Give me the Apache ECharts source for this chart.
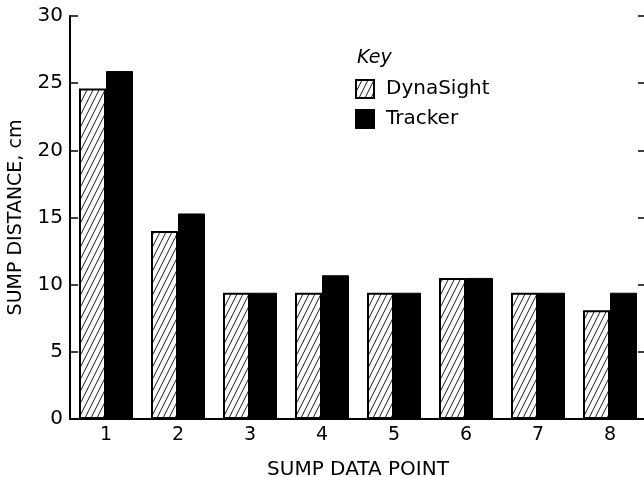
<!DOCTYPE html>
<html><head><meta charset="utf-8">
<script src="https://cdn.jsdelivr.net/npm/echarts@6/dist/echarts.min.js"></script>
<style>html,body{margin:0;padding:0;background:#fff}#c{width:644px;height:477px}</style>
</head><body><div id="c"></div>
<script>
const categories = ['1','2','3','4','5','6','7','8'];
const dynaSight = [24.6, 14.0, 9.4, 9.4, 9.4, 10.5, 9.4, 8.1];
const tracker = [25.9, 15.3, 9.4, 10.7, 9.4, 10.5, 9.4, 9.4];
const yTicks = [0, 5, 10, 15, 20, 25, 30];

const pc = document.createElement('canvas');
pc.width = 6; pc.height = 12;
const g = pc.getContext('2d');
g.fillStyle = '#fff'; g.fillRect(0,0,6,12);
g.strokeStyle = '#000'; g.lineWidth = 0.9;
g.beginPath();
for (let k = -2; k <= 2; k++) { g.moveTo(k*6, 12); g.lineTo(k*6+6, 0); }
g.stroke();

const font = 'DejaVu Sans';
const chart = echarts.init(document.getElementById('c'));
chart.setOption({
  animation: false,
  textStyle: {fontFamily: font, color: '#000'},
  grid: {left: 70, top: 16, width: 576, height: 403, containLabel: false, outerBoundsMode: 'none'},
  legend: {
    orient: 'vertical', left: 355, top: 79, itemWidth: 18, itemHeight: 18, itemGap: 10,
    icon: 'rect', padding: 0,
    textStyle: {fontFamily: font, fontSize: 20, color: '#000', padding: [0,0,0,7]},
    data: ['DynaSight', 'Tracker']
  },
  graphic: [{type: 'text', left: 357, top: 49, style: {text: 'Key', font: 'italic 19px "DejaVu Sans"', fill: '#000'}}],
  xAxis: [{
    type: 'category', data: categories,
    axisLine: {lineStyle: {color: '#000', width: 2}},
    axisTick: {show: false},
    axisLabel: {fontSize: 19, color: '#000', margin: 7},
    name: 'SUMP DATA POINT', nameLocation: 'middle', nameGap: 41,
    nameTextStyle: {fontSize: 20, color: '#000'}
  }, {
    type: 'category', data: categories, position: 'top',
    axisLine: {lineStyle: {color: '#000', width: 2}},
    axisTick: {show: false}, axisLabel: {show: false}
  }],
  yAxis: [{
    type: 'value', min: 0, max: 30, interval: 5,
    axisLine: {show: true, lineStyle: {color: '#000', width: 2}},
    axisTick: {show: true, inside: true, length: 8, lineStyle: {color: '#000', width: 1.5}},
    splitLine: {show: false},
    axisLabel: {fontSize: 20, color: '#000', margin: 7, formatter: v => yTicks.includes(v) ? String(v) : ''},
    name: 'SUMP DISTANCE, cm', nameLocation: 'middle', nameGap: 44, nameRotate: 90,
    nameTextStyle: {fontSize: 19, color: '#000'}
  }, {
    type: 'value', min: 0, max: 30, interval: 5, position: 'right',
    axisLine: {show: true, lineStyle: {color: '#000', width: 2}},
    axisTick: {show: true, inside: true, length: 8, lineStyle: {color: '#000', width: 1.5}},
    splitLine: {show: false}, axisLabel: {show: false}
  }],
  series: [{
    name: 'DynaSight', type: 'bar', data: dynaSight, barWidth: 27, barGap: '0%',
    itemStyle: {color: {image: pc, repeat: 'repeat'}, borderColor: '#000', borderWidth: 2}
  }, {
    name: 'Tracker', type: 'bar', data: tracker, barWidth: 27,
    itemStyle: {color: '#000', borderColor: '#000', borderWidth: 1}
  }]
});
</script></body></html>
